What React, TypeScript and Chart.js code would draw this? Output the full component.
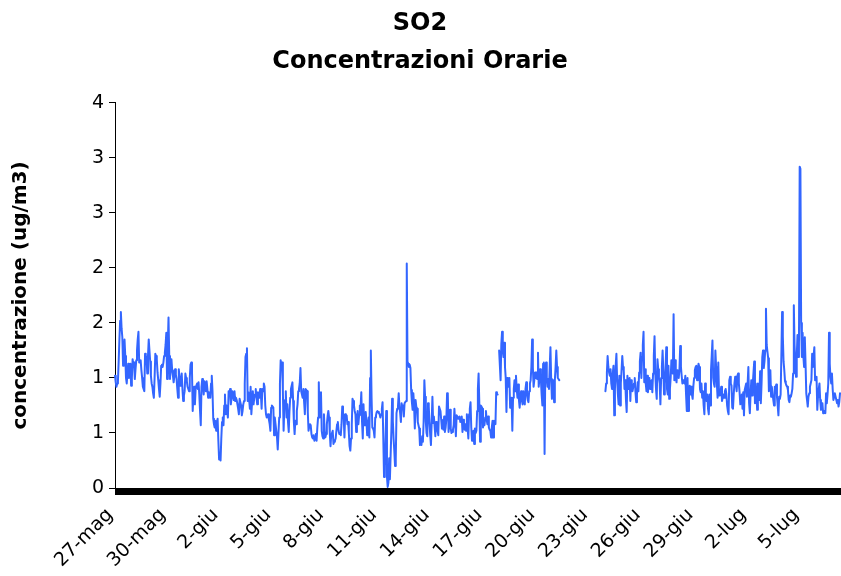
import React, { useEffect, useRef } from 'react';
import { Chart, registerables } from 'chart.js';

Chart.register(...registerables);

// ---- text ----
const chartTitle = ['SO2', 'Concentrazioni Orarie'];
const yAxisTitle = 'concentrazione (ug/m3)';
const xTickLabels = ['27-mag', '30-mag', '2-giu', '5-giu', '8-giu', '11-giu', '14-giu', '17-giu', '20-giu', '23-giu', '26-giu', '29-giu', '2-lug', '5-lug'];
const hoursPerXLabel = 72;
const yTickLabels = ['0', '1', '1', '2', '2', '3', '3', '4'];
const yStep = 0.5;
const yMax = 3.5;
const months = [
  { name: 'mag', from: 27, to: 31 },
  { name: 'giu', from: 1, to: 30 },
  { name: 'lug', from: 1, to: 7 },
];

// ---- hourly SO2 values (ug/m3) ----
const so2H000_095 = [
  1.02, 0.96, 0.92, 0.95, 0.97, 1.15, 1.35, 1.52, 1.60, 1.45,
  1.37, 1.11, 1.20, 1.35, 1.20, 1.00, 0.95, 1.05, 1.13, 1.00,
  1.05, 1.13, 0.93, 1.00, 1.17, 1.12, 1.14, 0.99, 1.08, 1.16,
  1.25, 1.35, 1.42, 1.14, 1.15, 1.16, 1.07, 1.00, 0.92, 0.90,
  0.88, 1.22, 1.20, 1.19, 1.04, 1.20, 1.35, 1.25, 1.15, 1.02,
  0.95, 0.92, 0.86, 0.82, 1.00, 1.22, 1.20, 1.17, 1.05, 0.98,
  0.90, 0.83, 0.95, 1.11, 1.12, 1.10, 1.14, 1.20, 1.23, 1.30,
  1.41, 0.99, 1.30, 1.55, 1.20, 0.99, 1.10, 1.17, 1.07, 1.02,
  0.96, 1.02, 1.08, 1.03, 0.99, 0.90, 0.82, 1.08, 1.00, 0.93,
  0.98, 1.04, 0.90, 0.79, 0.84, 0.88,
];
const so2H096_190 = [
  1.04, 1.00, 0.97, 0.92, 0.90, 0.88, 1.00, 1.12, 1.14, 1.07,
  0.70, 0.85, 0.92, 0.76, 0.90, 0.93, 0.95, 0.90, 0.96, 0.85,
  0.70, 0.57, 0.92, 0.99, 0.93, 0.85, 0.97, 0.92, 0.88, 0.97,
  0.90, 0.82, 0.87, 0.85, 0.82, 0.95, 1.02, 0.88, 0.63, 0.58,
  0.55, 0.61, 0.52, 0.60, 0.63, 0.43, 0.26, 0.30, 0.25, 0.45,
  0.60, 0.64, 0.57, 0.75, 0.85, 0.67, 0.75, 0.70, 0.64, 0.88,
  0.85, 0.90, 0.76, 0.82, 0.88, 0.84, 0.80, 0.88, 0.79, 0.82,
  0.80, 0.76, 0.72, 0.67, 0.81, 0.78, 0.75, 0.66, 0.70, 0.76,
  0.79, 0.95, 1.19, 1.22, 1.27, 0.79, 0.87, 0.80, 0.72, 0.92,
  0.67, 0.78, 0.88, 0.76, 0.82,
];
const so2H191_286 = [
  0.85, 0.90, 0.82, 0.76, 0.87, 0.84, 0.82, 0.90, 0.85, 0.72,
  0.90, 0.88, 0.95, 0.92, 0.75, 0.67, 0.64, 0.66, 0.67, 0.62,
  0.58, 0.52, 0.73, 0.75, 0.74, 0.73, 0.48, 0.64, 0.58, 0.52,
  0.46, 0.35, 0.50, 0.64, 0.95, 1.16, 1.10, 1.14, 0.88, 0.52,
  0.73, 0.80, 0.88, 0.64, 0.76, 0.60, 0.51, 0.70, 0.82, 0.90,
  0.93, 0.96, 0.79, 0.60, 0.49, 0.61, 0.58, 0.70, 0.76, 0.88,
  0.90, 0.95, 1.09, 0.88, 0.85, 0.82, 0.90, 0.78, 0.67, 0.90,
  0.89, 0.88, 0.69, 0.52, 0.56, 0.58, 0.57, 0.49, 0.46, 0.45,
  0.48, 0.43, 0.46, 0.49, 0.43, 0.55, 0.64, 0.96, 0.64, 0.75,
  0.87, 0.52, 0.47, 0.45, 0.67, 0.52,
];
const so2H287_381 = [
  0.46, 0.49, 0.58, 0.65, 0.70, 0.64, 0.50, 0.38, 0.49, 0.50,
  0.52, 0.40, 0.42, 0.43, 0.45, 0.52, 0.58, 0.60, 0.52, 0.49,
  0.50, 0.48, 0.58, 0.74, 0.68, 0.64, 0.46, 0.67, 0.62, 0.66,
  0.58, 0.60, 0.50, 0.38, 0.34, 0.45, 0.58, 0.81, 0.79, 0.75,
  0.70, 0.67, 0.51, 0.60, 0.70, 0.58, 0.66, 0.75, 0.73, 0.87,
  0.60, 0.45, 0.76, 0.57, 0.65, 0.69, 0.61, 0.48, 0.56, 0.64,
  0.46, 1.00, 1.25, 0.82, 0.55, 0.54, 0.52, 0.46, 0.64, 0.66,
  0.69, 0.70, 0.69, 0.68, 0.67, 0.64, 0.67, 0.72, 0.78, 0.45,
  0.10, 0.20, 0.43, 0.70, 0.10, 0.01, 0.05, 0.27, 0.08, 0.30,
  0.52, 0.81, 0.61, 0.45, 0.34,
];
const so2H382_477 = [
  0.20, 0.27, 0.68, 0.72, 0.74, 0.86, 0.74, 0.68, 0.60, 0.77,
  0.72, 0.75, 0.65, 0.77, 0.78, 0.79, 2.04, 1.15, 1.13, 1.10,
  1.12, 1.09, 0.89, 0.78, 0.71, 0.86, 0.75, 0.54, 0.80, 0.74,
  0.72, 0.60, 0.57, 0.54, 0.39, 0.42, 0.39, 0.47, 0.42, 0.60,
  0.98, 0.83, 0.60, 0.50, 0.47, 0.77, 0.74, 0.60, 0.48, 0.39,
  0.60, 0.83, 0.59, 0.65, 0.56, 0.47, 0.60, 0.55, 0.52, 0.48,
  0.74, 0.74, 0.70, 0.62, 0.54, 0.55, 0.53, 0.65, 0.51, 0.55,
  0.62, 0.86, 0.85, 0.51, 0.60, 0.71, 0.54, 0.50, 0.51, 0.53,
  0.57, 0.72, 0.60, 0.47, 0.66, 0.65, 0.63, 0.64, 0.65, 0.60,
  0.62, 0.65, 0.51, 0.62, 0.60, 0.53,
];
const so2H478_572 = [
  0.58, 0.52, 0.67, 0.55, 0.45, 0.67, 0.72, 0.78, 0.55, 0.43,
  0.50, 0.52, 0.40, 0.54, 0.50, 0.52, 0.70, 0.90, 1.04, 0.76,
  0.42, 0.75, 0.74, 0.72, 0.55, 0.60, 0.57, 0.64, 0.70, 0.62,
  0.58, 0.65, 0.55, 0.53, 0.52, 0.46, 0.55, 0.61, 0.46, 0.61,
  0.60, 0.58, 0.87, 0.85, 0.85, null, 1.25, 1.25, 0.98, 1.31,
  1.42, 1.25, 1.19, 1.32, 1.10, 1.00, 0.69, 1.00, 0.95, 0.92,
  1.00, 0.73, 0.80, 0.82, 0.52, 0.82, 0.90, 0.98, 0.88, 1.02,
  0.90, 0.82, 0.94, 0.80, 0.73, 0.82, 0.88, 0.80, 0.76, 0.88,
  0.80, 0.76, 0.90, 0.96, 0.85, 0.80, 0.78, 0.88, 0.95, 0.98,
  1.10, 1.35, 1.10, 0.92, 0.98,
];
const so2H573_606 = [
  1.05, 1.00, 1.05, 0.99, 1.23, 0.92, 1.00, 1.08, 0.98, 0.85,
  0.75, 1.13, 1.14, 0.31, 1.10, 1.14, 1.00, 0.92, 0.99, 0.90,
  1.10, 1.28, 0.99, 0.81, 0.90, 0.98, 0.78, 0.98, 1.10, 1.25,
  1.10, 1.00, 0.99, 0.98,
];
// no data recorded from 21-giu 07:00 to 23-giu 20:00
const so2H607_668 = [
  null, null, null, null, null, null, null, null, null, null,
  null, null, null, null, null, null, null, null, null, null,
  null, null, null, null, null, null, null, null, null, null,
  null, null, null, null, null, null, null, null, null, null,
  null, null, null, null, null, null, null, null, null, null,
  null, null, null, null, null, null, null, null, null, null,
  null, null,
];
const so2H669_763 = [
  0.88, 0.95, 1.05, 1.20, 1.10, 1.05, 1.02, 1.08, 0.95, 0.90,
  1.04, 1.11, 0.66, 0.90, 1.11, 1.22, 0.98, 0.85, 0.76, 1.02,
  0.75, 0.95, 1.07, 1.20, 1.10, 1.07, 0.90, 0.98, 0.80, 0.69,
  1.02, 0.90, 0.95, 1.00, 0.79, 0.98, 0.92, 0.88, 0.92, 0.95,
  1.00, 0.87, 0.78, 0.85, 0.96, 0.88, 1.05, 1.15, 1.23, 1.00,
  1.19, 1.30, 1.42, 0.96, 1.08, 0.95, 0.88, 1.02, 0.87, 0.95,
  1.00, 0.90, 0.95, 0.98, 0.87, 1.04, 1.20, 1.38, 1.04, 0.90,
  0.81, 1.17, 1.08, 1.00, 0.95, 0.76, 1.00, 1.10, 1.25, 1.07,
  0.85, 0.95, 1.08, 1.28, 0.90, 0.85, 1.11, 0.81, 0.90, 1.00,
  1.16, 1.10, 1.04, 1.58, 0.98,
];
const so2H764_858 = [
  1.16, 1.00, 0.96, 1.07, 1.05, 1.00, 1.08, 1.29, 1.10, 1.02,
  0.95, 0.98, 0.96, 0.95, 1.02, 0.85, 0.70, 1.00, 0.70, 0.85,
  0.93, 0.85, 0.92, 0.85, 0.81, 0.93, 1.00, 1.07, 1.10, 1.11,
  0.98, 1.05, 1.13, 1.10, 0.90, 0.87, 0.95, 0.82, 0.88, 0.75,
  0.67, 0.95, 0.80, 0.79, 0.85, 0.72, 0.67, 0.85, 0.75, 1.07,
  1.20, 1.34, 1.00, 0.95, 0.92, 1.25, 1.10, 0.95, 0.82, 1.14,
  0.84, 0.86, 0.88, 0.92, 0.79, 0.82, 0.85, 0.82, 0.88, 0.90,
  0.85, 0.75, 0.70, 0.67, 0.98, 1.01, 0.95, 0.93, 0.73, 0.72,
  0.85, 0.95, 1.01, 0.95, 0.88, 1.02, 1.04, 0.95, 0.87, 0.76,
  0.80, 0.85, 0.72, 0.87, 0.66,
];
const so2H859_989 = [
  0.89, 0.92, 0.95, 0.83, 0.95, 1.10, 0.77, 0.68, 0.85, 0.98,
  0.84, 0.95, 1.05, 1.15, 0.77, 0.95, 0.85, 0.71, 0.95, 0.85,
  0.80, 1.06, 0.77, 0.95, 1.19, 1.25, 1.09, 1.15, 1.25, 1.63,
  1.30, 1.24, 1.18, 0.88, 1.00, 1.07, 0.83, 0.92, 0.86, 0.80,
  0.75, 0.92, 0.90, 0.94, 0.83, 0.75, 0.66, 0.83, 0.81, 0.85,
  1.20, 1.60, 1.38, 1.15, 1.07, 0.97, 0.95, 0.93, 0.92, 0.89,
  0.80, 0.78, 0.84, 0.83, 0.86, 0.90, 1.04, 1.66, 1.30, 1.13,
  1.01, 1.20, 1.39, 1.19, 1.28, 2.92, 2.90, 1.50, 1.19, 1.41,
  1.20, 1.10, 1.37, 1.13, 0.86, 0.80, 0.74, 0.83, 0.86, 0.92,
  0.95, 0.98, 1.22, 1.10, 1.20, 1.28, 0.98, 1.00, 1.01, 0.71,
  0.83, 0.90, 0.95, 0.80, 0.71, 0.75, 0.77, 0.68, 0.70, 0.70,
  0.68, 0.86, 0.77, 0.85, 0.95, 1.41, 1.13, 1.00, 0.95, 1.04,
  0.90, 0.80, 0.83, 0.86, 0.83, 0.80, 0.77, 0.80, 0.74, 0.78,
  0.86,
];

const so2Hourly: (number | null)[] = [
  ...so2H000_095, ...so2H096_190, ...so2H191_286, ...so2H287_381,
  ...so2H382_477, ...so2H478_572, ...so2H573_606, ...so2H607_668,
  ...so2H669_763, ...so2H764_858, ...so2H859_989,
];

// hourly category labels
const hourlyCategories: string[] = [];
for (const m of months) {
  for (let d = m.from; d <= m.to; d++) {
    for (let h = 0; h < 24; h++) {
      if (hourlyCategories.length < so2Hourly.length) {
        hourlyCategories.push(`${d}-${m.name} ${String(h).padStart(2, '0')}:00`);
      }
    }
  }
}

const FONT = "'DejaVu Sans', Verdana, sans-serif";

export default function App() {
  const canvasRef = useRef<HTMLCanvasElement | null>(null);

  useEffect(() => {
    const canvas = canvasRef.current;
    if (!canvas) return;
    const chart = new Chart(canvas, {
      type: 'line',
      data: {
        labels: hourlyCategories,
        datasets: [
          {
            label: 'SO2',
            data: so2Hourly,
            borderColor: '#3366FF',
            backgroundColor: '#3366FF',
            borderWidth: 2,
            pointRadius: 0,
            pointHoverRadius: 0,
            tension: 0,
            spanGaps: false,
            fill: false,
            borderJoinStyle: 'round',
            borderCapStyle: 'round',
          },
        ],
      },
      options: {
        responsive: false,
        animation: false,
        devicePixelRatio: 1,
        events: [],
        layout: { padding: { left: 0, right: 1, top: 0, bottom: 0 } },
        plugins: {
          legend: { display: false },
          tooltip: { enabled: false },
          title: {
            display: true,
            text: chartTitle,
            color: '#000',
            font: { family: FONT, size: 24, weight: 'bold', lineHeight: 1.58 },
            padding: { top: 5, bottom: 22 },
          },
        },
        scales: {
          x: {
            type: 'category',
            offset: false,
            grid: {
              display: true,
              drawOnChartArea: false,
              drawTicks: true,
              tickLength: 7,
              color: '#000',
              lineWidth: 1,
            },
            border: { display: true, color: '#000', width: 1 },
            ticks: {
              autoSkip: false,
              maxRotation: 45,
              minRotation: 45,
              padding: 9,
              labelOffset: -5,
              color: '#000',
              font: { family: FONT, size: 19 },
              callback: (_v: any, index: number) =>
                index % hoursPerXLabel === 0 ? xTickLabels[index / hoursPerXLabel] ?? '' : '',
            },
            afterFit: (scale: any) => {
              scale.height = 88;
              scale.paddingLeft = 0;
              scale.paddingRight = 0;
            },
          },
          y: {
            min: 0,
            max: yMax,
            grid: {
              drawOnChartArea: false,
              drawTicks: true,
              tickLength: 6,
              color: '#000',
            },
            border: { display: true, color: '#000', width: 1 },
            ticks: {
              stepSize: yStep,
              padding: 5,
              color: '#000',
              font: { family: FONT, size: 19 },
              callback: (v: any) => yTickLabels[Math.round(Number(v) / yStep)] ?? '',
            },
            title: {
              display: true,
              text: yAxisTitle,
              color: '#000',
              font: { family: FONT, size: 20, weight: 'bold' },
              padding: { top: 9, bottom: 0 },
            },
            afterFit: (scale: any) => {
              scale.width = 115;
            },
          },
        },
      },
    });
    return () => chart.destroy();
  }, []);

  return (
    <div style={{ position: 'absolute', left: 0, top: 0, width: 841, height: 576, background: '#fff' }}>
      <canvas ref={canvasRef} width={841} height={576} style={{ display: 'block', width: 841, height: 576 }} />
    </div>
  );
}
